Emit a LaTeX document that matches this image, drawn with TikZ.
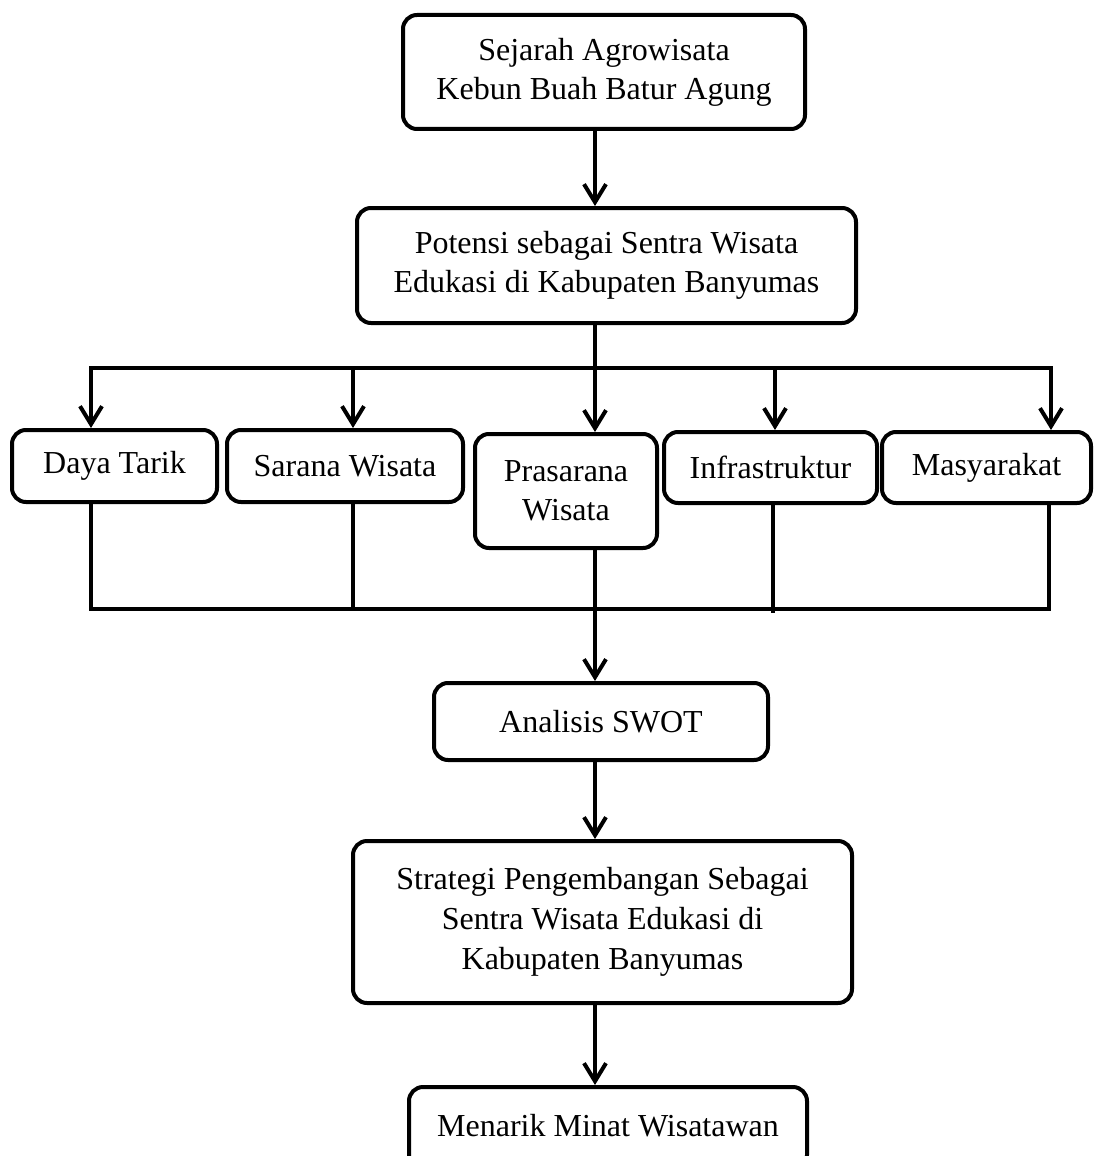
\documentclass[tikz,border=0pt]{standalone}
\usepackage{fontspec}
\setmainfont{Liberation Serif}
\usetikzlibrary{arrows.meta}
\begin{document}
\begin{tikzpicture}[x=0.5pt,y=-0.5pt,
  box/.style={draw, line width=2pt, rounded corners=7pt, inner sep=0pt, align=center,
              font=\fontsize{16}{19.5}\selectfont},
  conn/.style={line width=2pt},
  arr/.style={conn, -{Straight Barb[length=9pt,width=11pt]}},
  arrboth/.style={conn, {Straight Barb[length=9pt,width=11pt]}-{Straight Barb[length=9pt,width=11pt]}},
]
\clip (0,0) rectangle (1093,1156);

% nodes
\node[box, minimum width=201pt, minimum height=57pt] (b1) at (604,72)
  {Sejarah Agrowisata\\Kebun Buah Batur Agung};
\node[box, minimum width=249.5pt, minimum height=57.5pt] (b2) at (606.5,265.5)
  {Potensi sebagai Sentra Wisata\\Edukasi di Kabupaten Banyumas};
\node[box, minimum width=102.5pt, minimum height=36pt] (daya) at (114.5,466) {Daya Tarik};
\node[box, minimum width=118pt, minimum height=36pt] (sarana) at (345,466) {Sarana Wisata};
\node[box, minimum width=91pt, minimum height=57pt] (pras) at (566,491) {Prasarana\\Wisata};
\node[box, minimum width=106.5pt, minimum height=35.5pt] (infra) at (770.5,467.5) {Infrastruktur};
\node[box, minimum width=104.5pt, minimum height=35.5pt] (masy) at (986.5,467.5) {Masyarakat};
\node[box, minimum width=167pt, minimum height=38.5pt] (swot) at (601,721.5) {Analisis SWOT};
\node[box, minimum width=249.5pt, minimum height=81pt, font=\fontsize{16}{20}\selectfont] (strat) at (602.5,922)
  {Strategi Pengembangan Sebagai\\Sentra Wisata Edukasi di\\Kabupaten Banyumas};
\node[box, minimum width=199pt, minimum height=41pt] (menarik) at (608,1128) {};
\node[font=\fontsize{16}{19.5}\selectfont] (menariktxt) at (608,1126) {Menarik Minat Wisatawan};

% helper coordinates
\coordinate (spine) at (595,0);
\coordinate (tl) at (91,368);
\coordinate (tr) at (1051,368);
\coordinate (tsar) at (353,368);
\coordinate (tinf) at (775,368);
\coordinate (bl) at (91,609);
\coordinate (br) at (1049,609);
\coordinate (bsar) at (353,609);
\coordinate (binf) at (773,613);

% connectors
\draw[arr] (b1.south -| spine) -- (b2.north -| spine);
\draw[conn] (b2.south -| spine) -- (spine |- tl);
\draw[arrboth] (daya.north -| tl) |- (tr) -- (masy.north -| tr);
\draw[arr] (tsar) -- (sarana.north -| tsar);
\draw[arr] (spine |- tl) -- (pras.north -| spine);
\draw[arr] (tinf) -- (infra.north -| tinf);

\draw[conn] (daya.south -| bl) |- (br) -- (masy.south -| br);
\draw[conn] (sarana.south -| bsar) -- (bsar);
\draw[conn] (infra.south -| binf) -- (binf);
\draw[arr] (pras.south -| spine) -- (swot.north -| spine);
\draw[arr] (swot.south -| spine) -- (strat.north -| spine);
\draw[arr] (strat.south -| spine) -- (menarik.north -| spine);
\end{tikzpicture}
\end{document}
